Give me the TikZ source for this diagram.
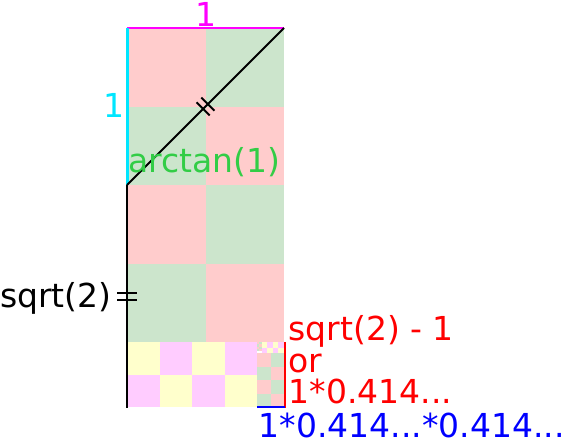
\documentclass[tikz,border=0pt]{standalone}
\usepackage{fontspec}
\setmainfont{DejaVu Sans}
\usetikzlibrary{calc}
\definecolor{pinkc}{RGB}{255,204,204}
\definecolor{greenc}{RGB}{204,229,204}
\definecolor{yellowc}{RGB}{255,255,204}
\definecolor{magc}{RGB}{255,204,255}
\definecolor{cyanl}{RGB}{0,230,255}
\definecolor{magl}{RGB}{255,0,255}
\definecolor{redl}{RGB}{255,0,0}
\definecolor{bluel}{RGB}{0,0,255}
\definecolor{greent}{RGB}{50,205,70}
\newcommand\chk[5]{%
  \fill[#4] (#1,#2) rectangle ++(#3/2,#3/2);
  \fill[#5] (#1+#3/2,#2) rectangle ++(#3/2,#3/2);
  \fill[#5] (#1,#2+#3/2) rectangle ++(#3/2,#3/2);
  \fill[#4] (#1+#3/2,#2+#3/2) rectangle ++(#3/2,#3/2);}
\tikzset{
  lbl/.style={inner sep=0pt, font=\fontsize{33}{39}\selectfont},
  blk/.style={draw=black, line width=2pt},
}
\begin{document}
\begin{tikzpicture}[x=1pt,y=-1pt]
\useasboundingbox (0,0) rectangle (567,440);
% level 0
\chk{127}{28}{157}{pinkc}{greenc}
\chk{127}{185}{157}{pinkc}{greenc}
% level 1
\chk{127}{342}{65.03}{yellowc}{magc}
\chk{192.03}{342}{65.03}{yellowc}{magc}
% level 2
\chk{257.06}{353.15}{26.94}{pinkc}{greenc}
\chk{257.06}{380.09}{26.94}{pinkc}{greenc}
% level 3
\chk{261.68}{342}{11.16}{yellowc}{magc}
\chk{272.84}{342}{11.16}{yellowc}{magc}
% level 4
\chk{257.06}{342}{4.62}{pinkc}{greenc}
\chk{257.06}{346.62}{4.62}{pinkc}{greenc}
% coordinates
\coordinate (TL) at (127,28);
\coordinate (TR) at (284,28);
\coordinate (ML) at (127,185);
\coordinate (BL) at (127,408);
\coordinate (R1) at (285,342);
\coordinate (R2) at (285,408);
\coordinate (B1) at (257,407);
\coordinate (B2) at (285,407);
\coordinate (M) at ($(ML)!0.5!(TR)$);
\coordinate (V) at ($(ML)!0.5!(BL)$);
% lines
\draw[magl, line width=2.4pt] (TL) -- (TR);
\draw[cyanl, line width=3pt] (TL) -- (ML);
\draw[blk] (ML) -- (TR);
\draw[blk] (ML) -- (BL);
\draw[redl, line width=2pt] (R1) -- (R2);
\draw[bluel, line width=2.6pt] (B1) -- (B2);
% ticks on diagonal
\draw[blk] ($(M)+(2.4,-2.4)+(-6.6,-6.6)$) -- ($(M)+(2.4,-2.4)+(6.6,6.6)$);
\draw[blk] ($(M)+(-2.4,2.4)+(-6.6,-6.6)$) -- ($(M)+(-2.4,2.4)+(6.6,6.6)$);
% ticks on vertical
\draw[blk] ($(V)+(-10,-3.3)$) -- ($(V)+(10,-3.3)$);
\draw[blk] ($(V)+(-10,3.3)$) -- ($(V)+(10,3.3)$);
% labels
\node[lbl, text=magl, anchor=base] (ltop) at (205.5,26) {1};
\node[lbl, text=cyanl, anchor=base] (lleft) at (114,117) {1};
\node[lbl, text=greent, anchor=base west] (larc) at (128,172) {arctan(1)};
\node[lbl, text=black, anchor=base west] (lsqrt) at (0,307) {sqrt(2)};
\node[lbl, text=redl, anchor=base west] (lr1) at (288.5,340) {sqrt(2) - 1};
\node[lbl, text=redl, anchor=base west] (lr2) at (288.5,372.5) {or};
\node[lbl, text=redl, anchor=base west] (lr3) at (288.5,403) {1*0.414...};
\node[lbl, text=bluel, anchor=base west] (lb) at (258.5,437) {1*0.414...*0.414...};
\end{tikzpicture}
\end{document}
